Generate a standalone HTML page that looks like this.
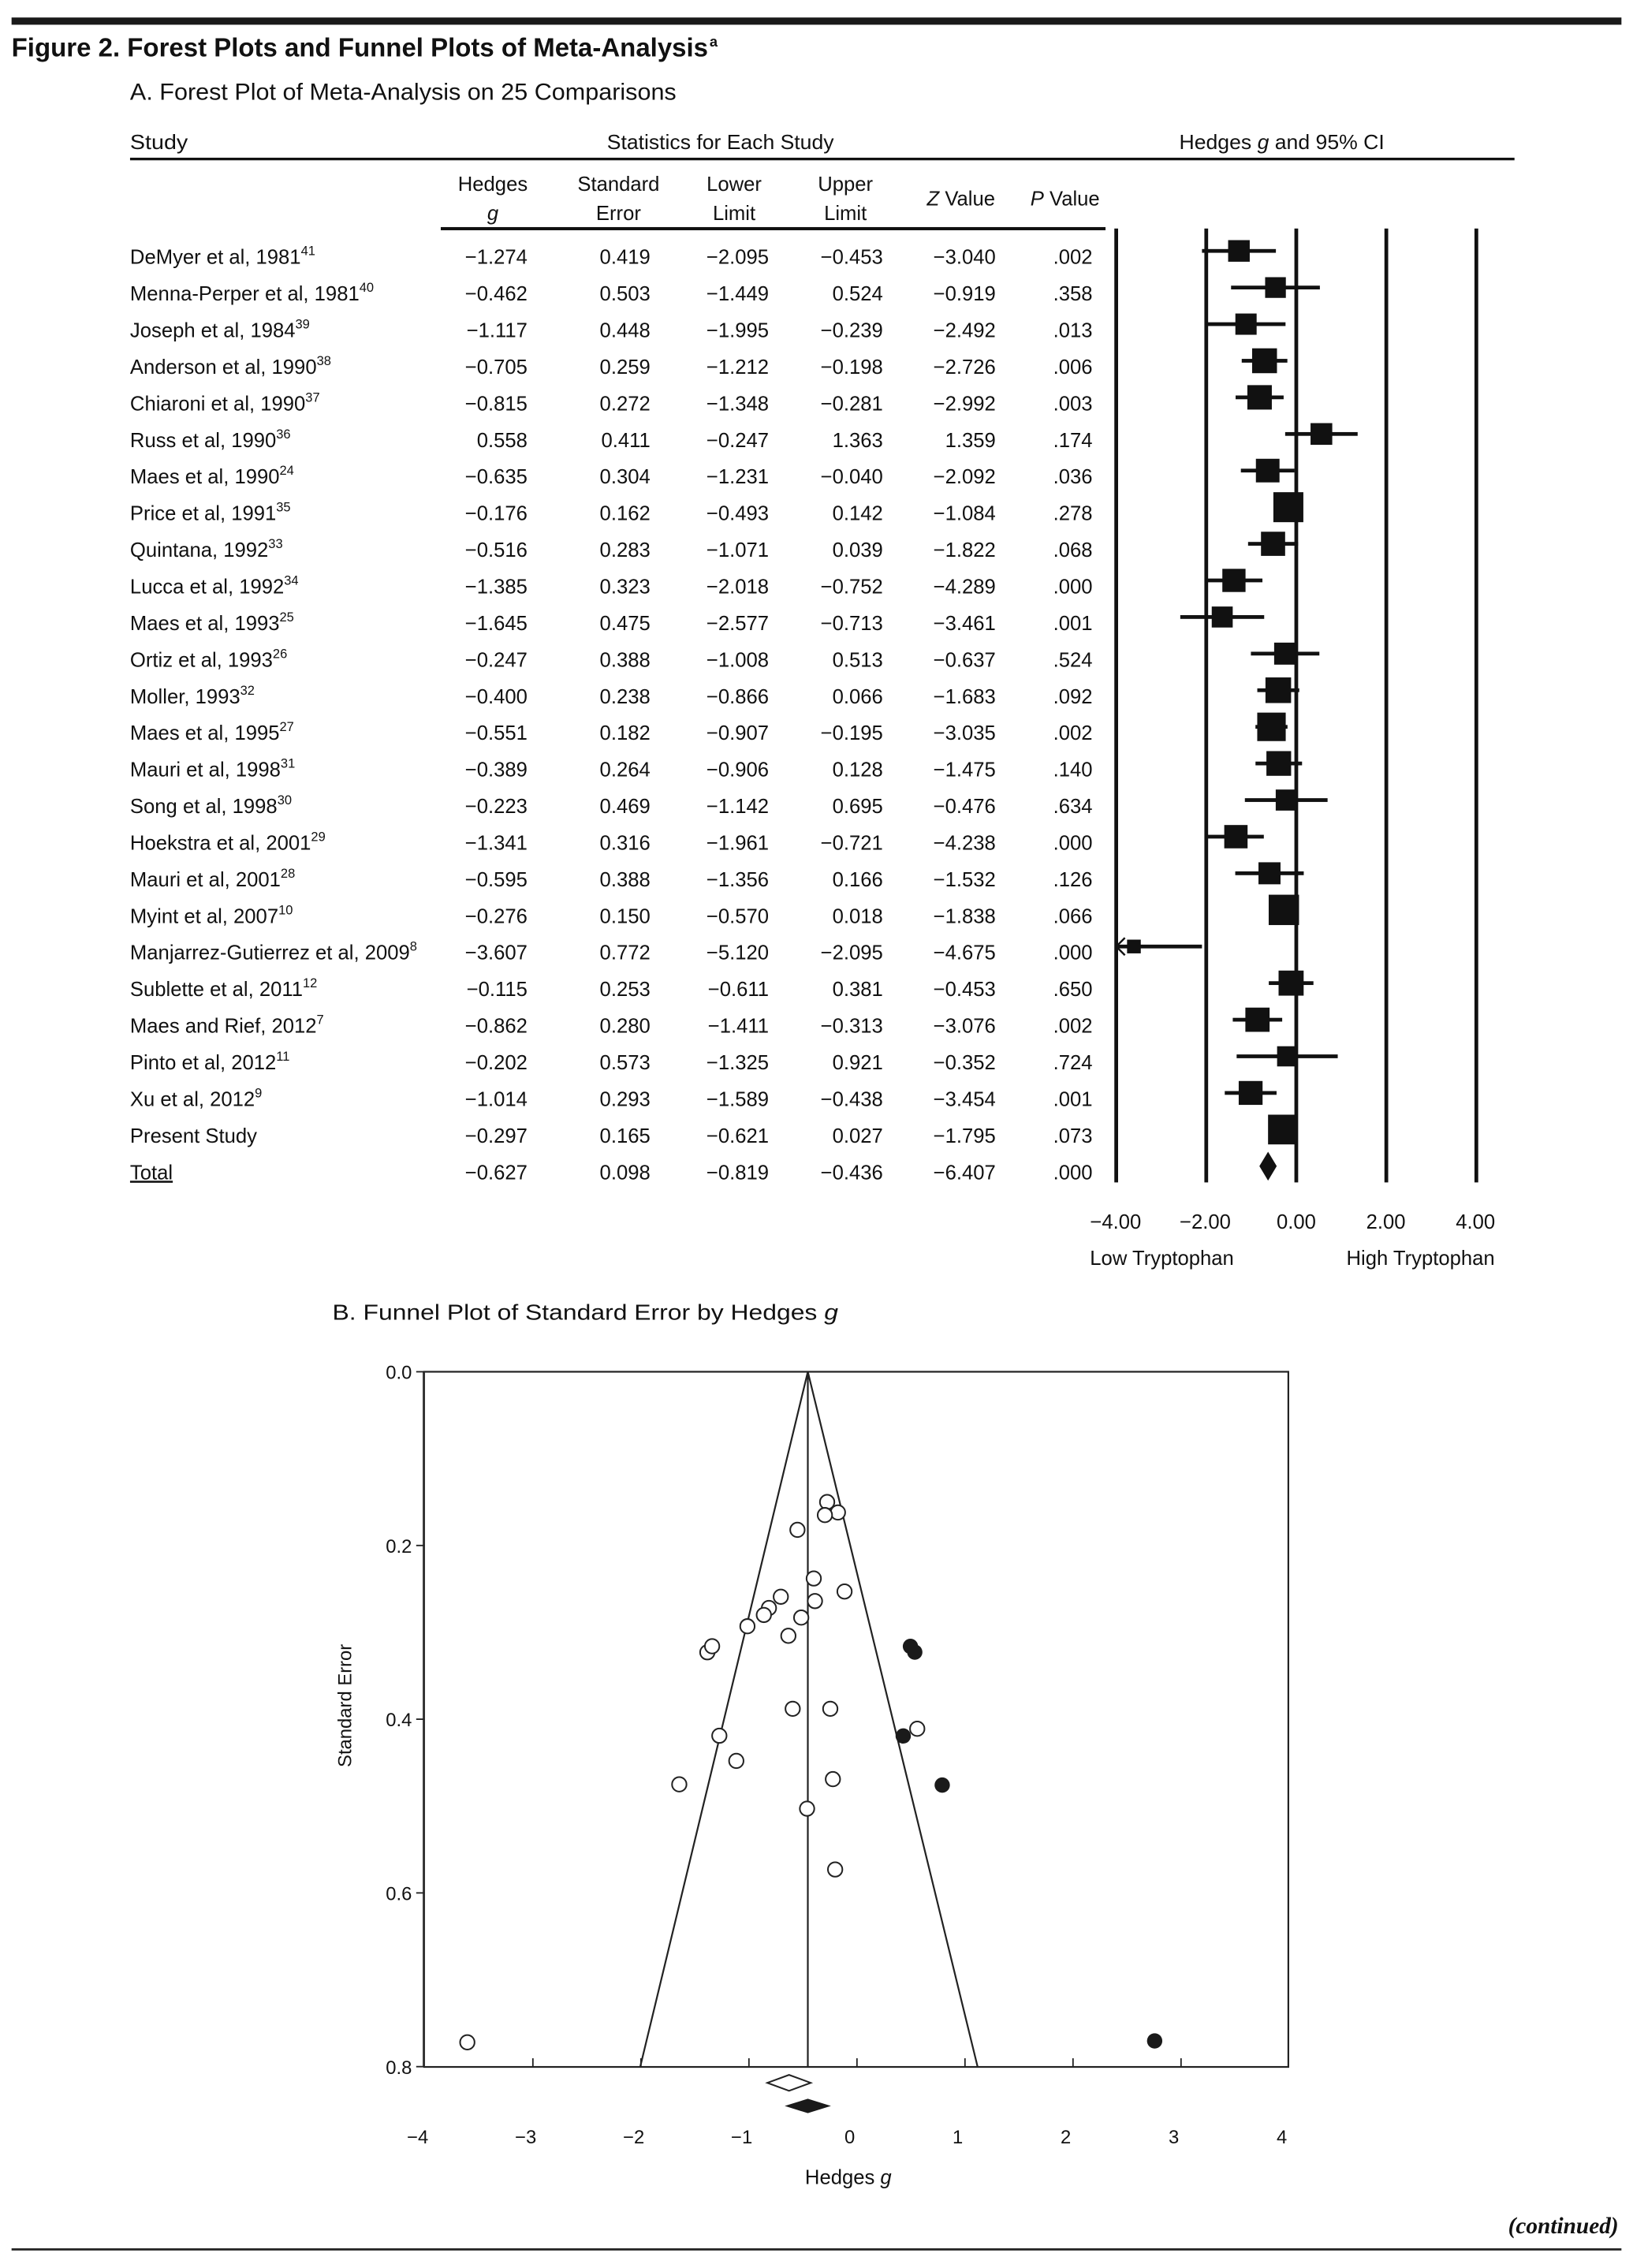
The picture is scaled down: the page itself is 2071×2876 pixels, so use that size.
<!DOCTYPE html>
<html><head><meta charset="utf-8"><style>
html,body{margin:0;padding:0;background:#fff}
svg{display:block}
text{font-family:"Liberation Sans",sans-serif;fill:#111}
</style></head><body>
<svg id="s" width="2071" height="2876" viewBox="0 0 1130 1569" xmlns="http://www.w3.org/2000/svg">
<rect x="0" y="0" width="1130" height="1569" fill="#fff"/>
<rect x="8" y="12" width="1114" height="5" fill="#1a1a1a"/>
<text x="8" y="39" font-size="18" font-weight="bold" textLength="482" lengthAdjust="spacingAndGlyphs">Figure 2. Forest Plots and Funnel Plots of Meta-Analysis</text>
<text x="491" y="32" font-size="10" font-weight="bold">a</text>
<text x="90" y="69" font-size="16" textLength="378" lengthAdjust="spacingAndGlyphs">A. Forest Plot of Meta-Analysis on 25 Comparisons</text>
<text x="90" y="103" font-size="14" textLength="40" lengthAdjust="spacingAndGlyphs">Study</text>
<text x="420" y="103" font-size="14" textLength="157" lengthAdjust="spacingAndGlyphs">Statistics for Each Study</text>
<text x="816" y="103" font-size="14" textLength="142" lengthAdjust="spacingAndGlyphs">Hedges <tspan font-style="italic">g</tspan> and 95% CI</text>
<rect x="90" y="109" width="958" height="1.8" fill="#111"/>
<g font-size="14" text-anchor="middle">
<text x="341" y="132">Hedges</text><text x="341" y="152" font-style="italic">g</text>
<text x="428" y="132">Standard</text><text x="428" y="152">Error</text>
<text x="508" y="132">Lower</text><text x="508" y="152">Limit</text>
<text x="585" y="132">Upper</text><text x="585" y="152">Limit</text>
<text x="665" y="142"><tspan font-style="italic">Z</tspan> Value</text>
<text x="737" y="142"><tspan font-style="italic">P</tspan> Value</text>
</g>
<rect x="305" y="157" width="460" height="2.2" fill="#111"/>
<g id="forest"></g>
<g font-size="14" text-anchor="middle">
<text x="772" y="850">−4.00</text><text x="834" y="850">−2.00</text><text x="897" y="850">0.00</text><text x="959" y="850">2.00</text><text x="1021" y="850">4.00</text>
<text x="804" y="875">Low Tryptophan</text><text x="983" y="875">High Tryptophan</text>
</g>
<text x="230" y="913" font-size="15" textLength="350" lengthAdjust="spacingAndGlyphs">B. Funnel Plot of Standard Error by Hedges <tspan font-style="italic">g</tspan></text>
<g id="funnel"></g>
<text x="1120" y="1545" font-size="16" font-family="Liberation Serif" font-weight="bold" font-style="italic" text-anchor="end" style="font-family:'Liberation Serif',serif">(continued)</text>
<rect x="8" y="1555.5" width="1114" height="1.5" fill="#222"/>
</svg>
<script>
var NS="http://www.w3.org/2000/svg";
function el(p,t,a,txt){var e=document.createElementNS(NS,t);for(var k in a)e.setAttribute(k,a[k]);if(txt!=null)e.textContent=txt;p.appendChild(e);return e;}
var rows=[
["DeMyer et al, 1981","41",-1.274,0.419,-2.095,-0.453,-3.040,".002"],
["Menna-Perper et al, 1981","40",-0.462,0.503,-1.449,0.524,-0.919,".358"],
["Joseph et al, 1984","39",-1.117,0.448,-1.995,-0.239,-2.492,".013"],
["Anderson et al, 1990","38",-0.705,0.259,-1.212,-0.198,-2.726,".006"],
["Chiaroni et al, 1990","37",-0.815,0.272,-1.348,-0.281,-2.992,".003"],
["Russ et al, 1990","36",0.558,0.411,-0.247,1.363,1.359,".174"],
["Maes et al, 1990","24",-0.635,0.304,-1.231,-0.040,-2.092,".036"],
["Price et al, 1991","35",-0.176,0.162,-0.493,0.142,-1.084,".278"],
["Quintana, 1992","33",-0.516,0.283,-1.071,0.039,-1.822,".068"],
["Lucca et al, 1992","34",-1.385,0.323,-2.018,-0.752,-4.289,".000"],
["Maes et al, 1993","25",-1.645,0.475,-2.577,-0.713,-3.461,".001"],
["Ortiz et al, 1993","26",-0.247,0.388,-1.008,0.513,-0.637,".524"],
["Moller, 1993","32",-0.400,0.238,-0.866,0.066,-1.683,".092"],
["Maes et al, 1995","27",-0.551,0.182,-0.907,-0.195,-3.035,".002"],
["Mauri et al, 1998","31",-0.389,0.264,-0.906,0.128,-1.475,".140"],
["Song et al, 1998","30",-0.223,0.469,-1.142,0.695,-0.476,".634"],
["Hoekstra et al, 2001","29",-1.341,0.316,-1.961,-0.721,-4.238,".000"],
["Mauri et al, 2001","28",-0.595,0.388,-1.356,0.166,-1.532,".126"],
["Myint et al, 2007","10",-0.276,0.150,-0.570,0.018,-1.838,".066"],
["Manjarrez-Gutierrez et al, 2009","8",-3.607,0.772,-5.120,-2.095,-4.675,".000"],
["Sublette et al, 2011","12",-0.115,0.253,-0.611,0.381,-0.453,".650"],
["Maes and Rief, 2012","7",-0.862,0.280,-1.411,-0.313,-3.076,".002"],
["Pinto et al, 2012","11",-0.202,0.573,-1.325,0.921,-0.352,".724"],
["Xu et al, 2012","9",-1.014,0.293,-1.589,-0.438,-3.454,".001"],
["Present Study","",-0.297,0.165,-0.621,0.027,-1.795,".073"],
["Total","",-0.627,0.098,-0.819,-0.436,-6.407,".000"]];
var F=document.getElementById("forest");
function fx(v){return 897+31.15*v;}
[-4,-2,0,2,4].forEach(function(v){el(F,"rect",{x:fx(v)-1.3,y:158,width:2.6,height:660,fill:"#111"});});
function fmt(v){var s=Math.abs(v).toFixed(3);return (v<0?"\u2212":"")+s;}
var cols=[365,450,532,611,689,756];
rows.forEach(function(r,i){
 var b=182.5+25.33*i;
 var t=el(F,"text",{x:90,y:b,"font-size":14,"text-decoration":r[0]=="Total"?"underline":"none"},r[0]);
 if(r[1]){el(t,"tspan",{"font-size":9,dy:-6},r[1]);}
 for(var c=0;c<5;c++)el(F,"text",{x:cols[c],y:b,"font-size":14,"text-anchor":"end"},fmt(r[2+c]));
 el(F,"text",{x:cols[5],y:b,"font-size":14,"text-anchor":"end"},r[7]);
 var cy=b-9;
 if(r[0]=="Total"){var cx=fx(r[2]);el(F,"path",{d:"M"+cx+" "+(cy-10)+"L"+(cx+6)+" "+cy+"L"+cx+" "+(cy+10)+"L"+(cx-6)+" "+cy+"Z",fill:"#111"});return;}
 var lo=Math.max(r[4],-4),hi=Math.min(r[5],4);
 el(F,"rect",{x:fx(lo),y:cy-1.3,width:fx(hi)-fx(lo),height:2.6,fill:"#111"});
 var sz=r[3]>0.7?9.5:Math.min(21,11.3+1.53/r[3]);
 el(F,"rect",{x:fx(r[2])-sz/2,y:cy-sz/2,width:sz,height:sz,fill:"#111"});
 if(r[4]<-4){var ax=fx(-4);el(F,"path",{d:"M"+(ax+6)+" "+(cy-6)+"L"+ax+" "+cy+"L"+(ax+6)+" "+(cy+6),fill:"none",stroke:"#111","stroke-width":1.3});}
});
// funnel
var G=document.getElementById("funnel");
function gx(v){return 593+74.75*v;} function gy(v){return 949+601*v;}
el(G,"rect",{x:293.5,y:949,width:598,height:481,fill:"none",stroke:"#222","stroke-width":1.2});
el(G,"rect",{x:292.5,y:949,width:1.5,height:481,fill:"#333"});
[0,0.2,0.4,0.6,0.8].forEach(function(v){el(G,"line",{x1:288,x2:293.5,y1:gy(v),y2:gy(v),stroke:"#222","stroke-width":1});
 el(G,"text",{x:285,y:gy(v)+5,"font-size":13,"text-anchor":"end"},v.toFixed(1));});
[-3,-2,-1,0,1,2,3].forEach(function(v){el(G,"line",{x1:gx(v),x2:gx(v),y1:1430,y2:1424,stroke:"#222","stroke-width":1});});
[-4,-3,-2,-1,0,1,2,3,4].forEach(function(v){el(G,"text",{x:gx(v)-5,y:1483,"font-size":13,"text-anchor":"middle"},(v<0?"\u2212":"")+Math.abs(v));});
el(G,"text",{x:587,y:1511,"font-size":14,"text-anchor":"middle"},"Hedges ").appendChild(function(){var t=document.createElementNS(NS,"tspan");t.setAttribute("font-style","italic");t.textContent="g";return t;}());
el(G,"text",{x:0,y:0,"font-size":13,"text-anchor":"middle",transform:"translate(243,1180) rotate(-90)"},"Standard Error");
el(G,"polyline",{points:"443,1430 559,949 676.5,1430",fill:"none",stroke:"#222","stroke-width":1.2});
el(G,"line",{x1:559,x2:559,y1:949,y2:1430,stroke:"#222","stroke-width":1.2});
rows.slice(0,25).forEach(function(r){el(G,"circle",{cx:gx(r[2]),cy:gy(r[3]),r:5,fill:"#fff",stroke:"#222","stroke-width":1.1});});
[[630,1139],[633,1143],[625,1201],[652,1235],[799,1412]].forEach(function(p){el(G,"circle",{cx:p[0],cy:p[1],r:5.3,fill:"#1a1a1a"});});
el(G,"path",{d:"M531 1441L546 1435.5L561 1441L546 1446.5Z",fill:"#fff",stroke:"#222","stroke-width":1.1});
el(G,"path",{d:"M543 1457L559 1452L575 1457L559 1462Z",fill:"#1a1a1a"});
</script>
</body></html>
